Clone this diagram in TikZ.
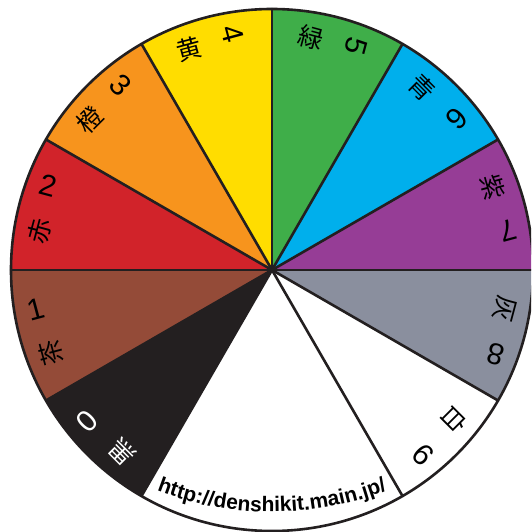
\documentclass[tikz,border=0pt]{standalone}
\usepackage{fontspec}
\setmainfont{Liberation Sans}
\newfontfamily\jp{Noto Sans CJK JP}
\usetikzlibrary{decorations.text}
\definecolor{cpurple}{RGB}{150,61,150}
\definecolor{cblue}{RGB}{0,175,236}
\definecolor{cgreen}{RGB}{63,174,73}
\definecolor{cyellow}{RGB}{255,221,0}
\definecolor{corange}{RGB}{247,148,29}
\definecolor{cred}{RGB}{209,35,42}
\definecolor{cbrown}{RGB}{148,75,56}
\definecolor{cblack}{RGB}{35,31,32}
\definecolor{cgray}{RGB}{138,143,158}
\tikzset{
  kanji/.style={font=\jp\fontsize{25}{30}\selectfont, inner sep=0pt},
  digit/.style={font=\fontsize{30}{36}\selectfont, inner sep=0pt},
  edge/.style={draw=cblack, line width=2.6pt, line cap=round},
}
\begin{document}
\begin{tikzpicture}[x=1pt,y=1pt]
\useasboundingbox (0,0) rectangle (531,532);
\clip (0,0) rectangle (531,532);
\fill[white] (0,0) rectangle (531,532);
\coordinate (C) at (272,262);
\coordinate (TC) at (272,340);
\foreach \a/\col/\k/\d/\tc [count=\i] in {0/cpurple/紫/7/black, 30/cblue/青/6/black, 60/cgreen/緑/5/black, 90/cyellow/黄/4/black, 120/corange/橙/3/black, 150/cred/赤/2/black, 180/cbrown/茶/1/black, 210/cblack/黒/0/white, 300/white/白/9/black, 330/cgray/灰/8/black} {
  \pgfmathsetmacro\m{\a+15}
  \fill[\col] (C) -- ([shift={(\a:261)}]C) arc[start angle=\a, end angle=\a+30, radius=261] -- cycle;
  \node[kanji, text=\tc, rotate=\m-90] (k\i) at ([shift={(\m+5.6:236)}]C) {\k};
  \node[digit, text=\tc, rotate=\m-180] (d\i) at ([shift={(\m-5.6:239)}]C) {\d};
}
\foreach \a in {0,30,60,90,120,150,180,210,240,300,330}
  \draw[edge] (C) -- ([shift={(\a:261)}]C);
\draw[edge] (C) circle[radius=261];
\path[decorate, decoration={text along path, text align=center,
  text format delimiters={|}{|},
  text={|\bfseries\fontsize{21}{25}\selectfont|http://denshikit.main.jp/}}]
  ([shift={(240:320)}]TC) arc[start angle=240, end angle=300, radius=320];
\end{tikzpicture}
\end{document}
